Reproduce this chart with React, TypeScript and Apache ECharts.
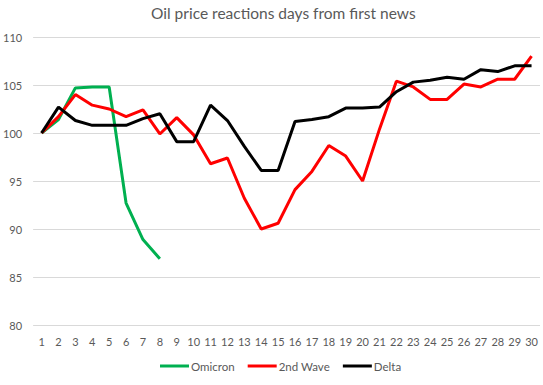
import React, { useEffect, useRef } from "react";
import * as echarts from "echarts";

const days = Array.from({ length: 30 }, (_, i) => String(i + 1));
const omicron = [100, 101.4, 104.7, 104.8, 104.8, 92.7, 88.9, 86.9];
const secondWave = [100, 101.7, 104.0, 102.9, 102.5, 101.7, 102.4, 99.9, 101.6, 99.8, 96.8, 97.4, 93.2, 90.0, 90.6, 94.1, 96.0, 98.7, 97.6, 95.0, 100.4, 105.4, 104.8, 103.5, 103.5, 105.1, 104.8, 105.6, 105.6, 108.0];
const delta = [100, 102.7, 101.3, 100.8, 100.8, 100.8, 101.5, 102.0, 99.1, 99.1, 102.9, 101.3, 98.6, 96.1, 96.1, 101.2, 101.4, 101.7, 102.6, 102.6, 102.7, 104.3, 105.3, 105.5, 105.8, 105.6, 106.6, 106.4, 107.0, 107.0];

const FONT = "Lato, 'Noto Sans', sans-serif";
const GREY = "#595959";

export default function App() {
  const ref = useRef<HTMLDivElement>(null);
  useEffect(() => {
    if (!ref.current) return;
    const chart = echarts.init(ref.current, undefined, { renderer: "svg" });
    const mk = (name: string, data: number[], color: string) => ({
      name,
      type: "line",
      data,
      symbol: "none",
      lineStyle: { color, width: 3 },
      itemStyle: { color },
    });
    chart.setOption({
      animation: false,
      textStyle: { fontFamily: FONT },
      title: {
        text: "Oil price reactions days from first news",
        left: 146,
        top: 0,
        textStyle: { fontSize: 15.5, fontWeight: "normal", color: GREY, fontFamily: FONT },
      },
      legend: {
        top: 355,
        left: 155,
        itemWidth: 29,
        itemHeight: 3,
        itemGap: 13,
        icon: "rect",
        textStyle: { fontSize: 11.5, color: GREY, fontFamily: FONT, padding: [0, 0, 0, -3] },
        data: ["Omicron", "2nd Wave", "Delta"],
      },
      grid: { left: 33, right: 3, top: 37, bottom: 60, containLabel: false },
      xAxis: {
        type: "category",
        data: days,
        boundaryGap: true,
        axisLine: { show: false },
        axisTick: { show: false },
        axisLabel: { color: GREY, fontSize: 11, fontFamily: FONT, interval: 0, margin: 11 },
      },
      yAxis: {
        type: "value",
        min: 80,
        max: 110,
        interval: 5,
        axisLine: { show: false },
        axisTick: { show: false },
        axisLabel: { color: GREY, fontSize: 11, fontFamily: FONT, margin: 11 },
        splitLine: { lineStyle: { color: "#d9d9d9", width: 1 } },
      },
      series: [
        mk("Omicron", omicron, "#00B050"),
        mk("2nd Wave", secondWave, "#FF0000"),
        mk("Delta", delta, "#000000"),
      ],
    });
    return () => chart.dispose();
  }, []);
  return <div ref={ref} style={{ position: "absolute", left: 0, top: 0, width: 543, height: 385 }} />;
}
